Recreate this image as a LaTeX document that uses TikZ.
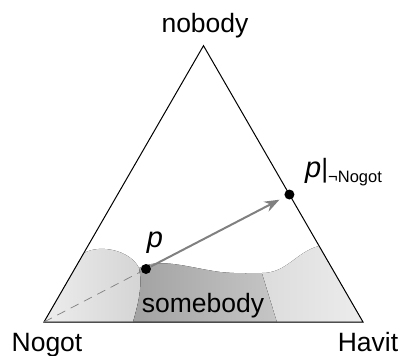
\documentclass[tikz,border=0pt]{standalone}
\usepackage{fontspec}
\setmainfont{Liberation Sans}
\usepackage{xcolor}
\usetikzlibrary{positioning, arrows.meta}

\definecolor{leftlo}{HTML}{F0F0F0}
\definecolor{lefthi}{HTML}{D4D4D4}
\definecolor{midlo}{HTML}{A2A2A2}
\definecolor{midhi}{HTML}{C6C6C6}
\definecolor{rightlo}{HTML}{DCDCDC}
\definecolor{righthi}{HTML}{EFEFEF}
\definecolor{arrowgray}{HTML}{808080}

\begin{document}
\begin{tikzpicture}[x=1bp, y=-1bp,
  every node/.style={inner sep=0pt},
  lbl/.style={font=\fontsize{26.5bp}{31bp}\selectfont, anchor=base},
  tri/.style={black, line width=1bp, line join=miter},
  dot/.style={circle, fill=black, minimum size=10bp},
  arrow/.style={-{Stealth[length=15bp, width=11bp]}, arrowgray,
                line width=2bp, shorten >=6bp},
  dashline/.style={dashed, arrowgray, line width=0.7bp,
                   dash pattern=on 9bp off 6bp}]
\useasboundingbox (0,0) rectangle (401,356);

% corners of the simplex
\coordinate (ng) at (44,322);
\coordinate (hv) at (363,322);
\coordinate (nb) at (203.5,45.7);

% shaded band along the bottom
\begin{scope}
  \clip (ng) -- (hv) -- (nb) -- cycle;
  \fill[left color=leftlo, right color=lefthi]
    (30,322) -- (30,258) -- (84,253)
    .. controls (100,244) and (130,250) .. (139,268)
    .. controls (143,285) and (138,305) .. (133,322) -- cycle;
  \fill[left color=midlo, right color=midhi]
    (133,322) .. controls (138,305) and (143,285) .. (139,268)
    .. controls (160,257) and (190,268) .. (220,272)
    .. controls (240,274) and (255,273) .. (262,273)
    -- (277,322) -- cycle;
  \fill[left color=rightlo, right color=righthi]
    (262,273) .. controls (287,273) and (296,252) .. (319,246)
    -- (380,246) -- (380,322) -- (277,322) -- cycle;
\end{scope}

\draw[tri] (ng) -- (hv) -- (nb) -- cycle;

\node[dot] (p) at (146,269) {};
\node[dot] (pc) at (intersection of ng--p and hv--nb) {};
\draw[dashline] (ng) -- (p);
\draw[arrow] (p) -- (pc);

\node[lbl] (nobody) at (205,32) {nobody};
\node[lbl] (nogot) at (47,351) {Nogot};
\node[lbl] (havit) at (368,351) {Havit};
\node[lbl] (somebody) at (203,312) {somebody};
\node[lbl, font=\fontsize{29bp}{33bp}\selectfont] (plabel) at (155,247)
  {\itshape p};
\node[lbl, anchor=base west] (pclabel) at (305,177)
  {{\fontsize{29bp}{33bp}\selectfont\itshape p}|\raisebox{-5bp}{\fontsize{16.5bp}{19bp}\selectfont ¬Nogot}};
\end{tikzpicture}
\end{document}
